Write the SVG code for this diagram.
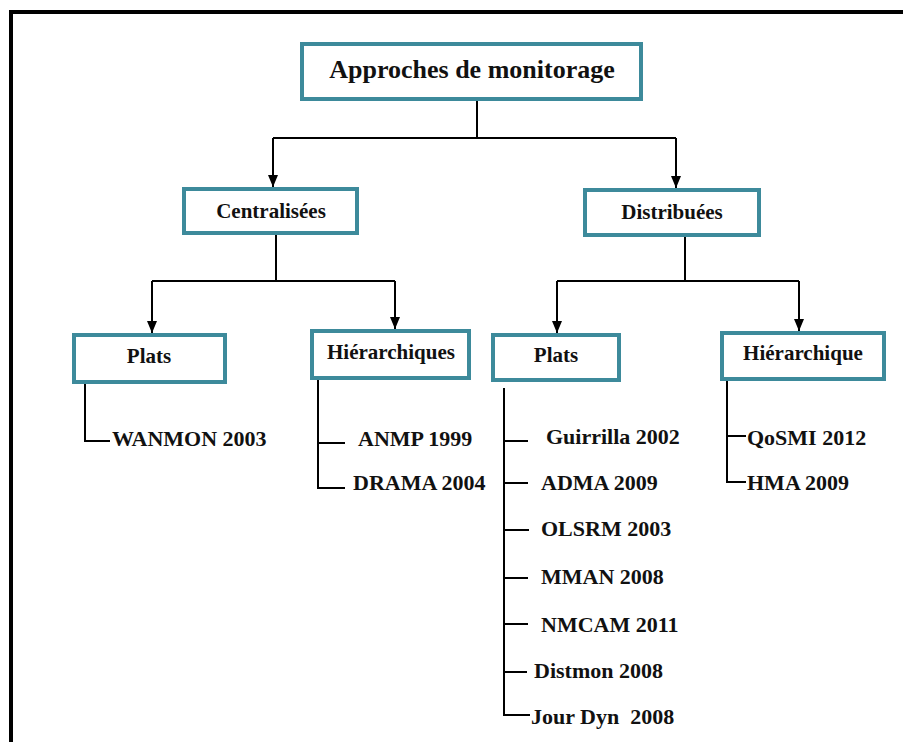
<svg xmlns="http://www.w3.org/2000/svg" width="903" height="742" viewBox="0 0 903 742">
  <style>
    .box { fill: #ffffff; stroke: #3d8a9b; stroke-width: 4; }
    .lbl { font-family: "Liberation Serif", "Times New Roman", serif; font-weight: bold; fill: #111111; text-anchor: middle; }
    .leaf { font-family: "Liberation Serif", "Times New Roman", serif; font-weight: bold; font-size: 22px; fill: #111111; white-space: pre; }
    .ln { fill: none; stroke: #000000; stroke-width: 2; }
    .arr { fill: none; stroke: #000000; stroke-width: 2; marker-end: url(#tip); }
  </style>
  <defs>
    <!-- filled arrowhead, tip at the end of the line -->
    <marker id="tip" markerUnits="userSpaceOnUse" markerWidth="12" markerHeight="10" viewBox="0 0 12 10" refX="12" refY="5" orient="auto">
      <path d="M0,0 L12,5 L0,10 Z" fill="#000000"/>
    </marker>
  </defs>

  <rect width="903" height="742" fill="#ffffff"/>
  <!-- outer frame -->
  <path d="M11,742 V12 H903" fill="none" stroke="#000000" stroke-width="4"/>

  <g id="connectors">
    <path class="ln" d="M477,101 V138 M273,138 H676"/>
    <path class="arr" d="M273,138 V187"/>
    <path class="arr" d="M676,138 V188"/>

    <path class="ln" d="M276,235 V281 M152,281 H395"/>
    <path class="arr" d="M152,281 V333"/>
    <path class="arr" d="M395,281 V329"/>

    <path class="ln" d="M685,237 V281 M557,281 H799"/>
    <path class="arr" d="M557,281 V333"/>
    <path class="arr" d="M799,281 V331"/>

    <path class="ln" d="M85,384 V441 H110"/>
    <path class="ln" d="M318,380 V488 H345 M318,443 H345"/>
    <path class="ln" d="M504,388 V715 H530 M504,441 H528 M504,483 H528 M504,530 H529 M504,578 H528 M504,624 H528 M504,672 H527"/>
    <path class="ln" d="M727,381 V482 H746 M727,436 H746"/>
  </g>

  <g id="root">
    <rect class="box" x="302" y="44" width="339" height="55"/>
    <text class="lbl" x="472" y="78" font-size="26">Approches de monitorage</text>
  </g>
  <g id="centralisees">
    <rect class="box" x="184" y="189" width="173" height="44"/>
    <text class="lbl" x="271" y="218" font-size="21">Centralisées</text>
  </g>
  <g id="distribuees">
    <rect class="box" x="585" y="190" width="174" height="45"/>
    <text class="lbl" x="672" y="219" font-size="21">Distribuées</text>
  </g>
  <g id="plats-centralisees">
    <rect class="box" x="74" y="335" width="151" height="47"/>
    <text class="lbl" x="149" y="363" font-size="21">Plats</text>
  </g>
  <g id="hierarchiques-centralisees">
    <rect class="box" x="312" y="331" width="157" height="47"/>
    <text class="lbl" x="391" y="359" font-size="21">Hiérarchiques</text>
  </g>
  <g id="plats-distribuees">
    <rect class="box" x="493" y="335" width="126" height="45"/>
    <text class="lbl" x="556" y="362" font-size="21">Plats</text>
  </g>
  <g id="hierarchique-distribuees">
    <rect class="box" x="722" y="333" width="162" height="46"/>
    <text class="lbl" x="803" y="360" font-size="21">Hiérarchique</text>
  </g>

  <g id="leaves-plats-centralisees">
    <text class="leaf" x="112" y="446">WANMON 2003</text>
  </g>
  <g id="leaves-hierarchiques-centralisees">
    <text class="leaf" x="358" y="446">ANMP 1999</text>
    <text class="leaf" x="353" y="490">DRAMA 2004</text>
  </g>
  <g id="leaves-plats-distribuees">
    <text class="leaf" x="546" y="444">Guirrilla 2002</text>
    <text class="leaf" x="541" y="490">ADMA 2009</text>
    <text class="leaf" x="541" y="536">OLSRM 2003</text>
    <text class="leaf" x="541" y="584">MMAN 2008</text>
    <text class="leaf" x="541" y="632">NMCAM 2011</text>
    <text class="leaf" x="534" y="678">Distmon 2008</text>
    <text class="leaf" x="531" y="724">Jour Dyn  2008</text>
  </g>
  <g id="leaves-hierarchique-distribuees">
    <text class="leaf" x="747" y="445">QoSMI 2012</text>
    <text class="leaf" x="747" y="490">HMA 2009</text>
  </g>
</svg>
